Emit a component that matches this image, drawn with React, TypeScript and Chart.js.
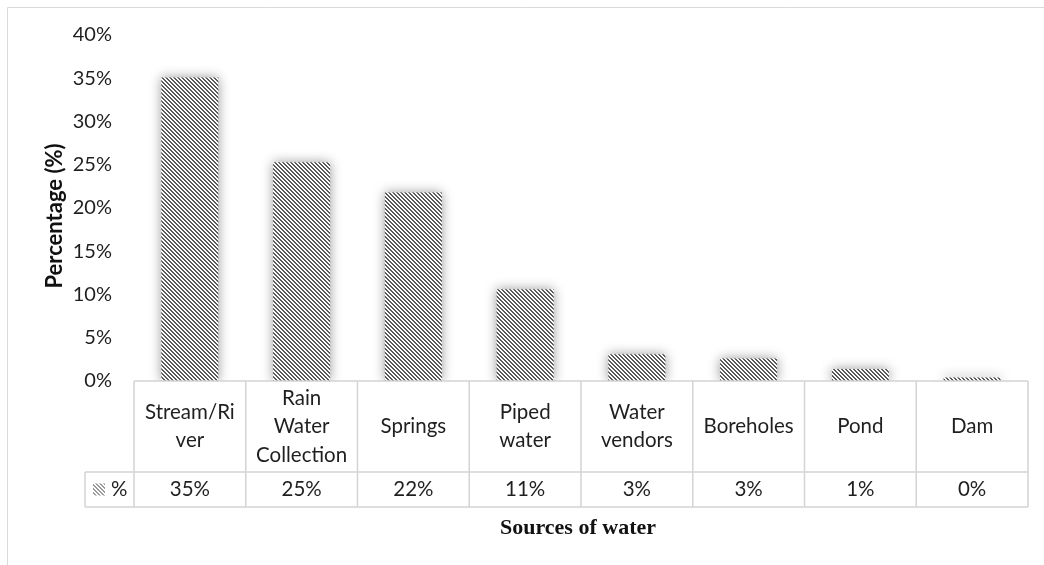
import React, { useEffect, useRef } from "react";
import { Chart, registerables } from "chart.js";

Chart.register(...registerables);

// ---- data ----
const categories = [
  "Stream/River",
  "Rain Water Collection",
  "Springs",
  "Piped water",
  "Water vendors",
  "Boreholes",
  "Pond",
  "Dam",
];
const headerLines = [
  ["Stream/Ri", "ver"],
  ["Rain", "Water", "Collection"],
  ["Springs"],
  ["Piped", "water"],
  ["Water", "vendors"],
  ["Boreholes"],
  ["Pond"],
  ["Dam"],
];
const values = [35.1, 25.3, 21.8, 10.6, 3.1, 2.6, 1.4, 0.4];
const seriesName = "%";
const yMin = 0;
const yMax = 40;
const yStep = 5;
const yAxisTitle = "Percentage (%)";
const xAxisTitle = "Sources of water";

const FONT = "Lato, 'Open Sans', sans-serif";
const TEXT = "#1f1f1f";
const GRID = "#d4d4d4";

function makePattern(dark: string, light: string) {
  const c = document.createElement("canvas");
  c.width = 4;
  c.height = 4;
  const g = c.getContext("2d")!;
  g.fillStyle = light;
  g.fillRect(0, 0, 4, 4);
  g.fillStyle = dark;
  for (let y = 0; y < 4; y++) {
    for (let x = 0; x < 4; x++) {
      const d = (((x - y) % 4) + 4) % 4;
      if (d < 2) g.fillRect(x, y, 1, 1);
    }
  }
  const main = document.createElement("canvas").getContext("2d")!;
  return main.createPattern(c, "repeat")!;
}

export default function App() {
  const ref = useRef<HTMLCanvasElement | null>(null);

  useEffect(() => {
    const canvas = ref.current!;
    const barPattern = makePattern("#5a5a5a", "#ffffff");
    const swatchPattern = makePattern("#9a9a9a", "#ffffff");

    const shadowPlugin = {
      id: "barShadow",
      beforeDatasetsDraw(chart: any) {
        const ctx = chart.ctx;
        ctx.save();
        ctx.shadowColor = "rgba(0,0,0,0.4)";
        ctx.shadowBlur = 12;
        ctx.shadowOffsetX = 0;
        ctx.shadowOffsetY = 0;
      },
      afterDatasetsDraw(chart: any) {
        chart.ctx.restore();
      },
    };

    const tablePlugin = {
      id: "dataTable",
      afterDraw(chart: any) {
        const ctx = chart.ctx as CanvasRenderingContext2D;
        const { left, right, bottom } = chart.chartArea;
        const n = categories.length;
        const cw = (right - left) / n;
        const headerBottom = bottom + 91;
        const dataBottom = bottom + 126;
        const legendLeft = left - 49;

        ctx.save();
        // frame
        ctx.strokeStyle = "#d9d9d9";
        ctx.lineWidth = 1;
        ctx.beginPath();
        ctx.moveTo(7.5, 7.5);
        ctx.lineTo(chart.width, 7.5);
        ctx.moveTo(7.5, 7.5);
        ctx.lineTo(7.5, chart.height);
        ctx.stroke();

        // table lines
        ctx.strokeStyle = GRID;
        ctx.lineWidth = 1.5;
        ctx.beginPath();
        ctx.moveTo(left, bottom);
        ctx.lineTo(right, bottom);
        ctx.moveTo(legendLeft, headerBottom);
        ctx.lineTo(right, headerBottom);
        ctx.moveTo(legendLeft, dataBottom);
        ctx.lineTo(right, dataBottom);
        ctx.moveTo(legendLeft, headerBottom);
        ctx.lineTo(legendLeft, dataBottom);
        for (let i = 0; i <= n; i++) {
          const x = left + i * cw;
          ctx.moveTo(x, bottom);
          ctx.lineTo(x, dataBottom);
        }
        ctx.stroke();

        // header text
        ctx.fillStyle = TEXT;
        ctx.font = `20.5px ${FONT}`;
        ctx.textAlign = "center";
        ctx.textBaseline = "middle";
        const lh = 28.5;
        const hc = (bottom + headerBottom) / 2;
        headerLines.forEach((lines, i) => {
          const cx = left + (i + 0.5) * cw;
          const y0 = hc - ((lines.length - 1) * lh) / 2;
          lines.forEach((t, j) => ctx.fillText(t, cx, y0 + j * lh));
        });

        // data row
        const dc = (headerBottom + dataBottom) / 2;
        values.forEach((v, i) => {
          const cx = left + (i + 0.5) * cw;
          ctx.fillText(Math.round(v) + "%", cx, dc);
        });

        // legend cell
        ctx.fillStyle = swatchPattern;
        ctx.fillRect(legendLeft + 8, dc - 6, 12, 12);
        ctx.fillStyle = TEXT;
        ctx.textAlign = "left";
        ctx.fillText(seriesName, legendLeft + 26, dc);

        // x title
        ctx.font = `bold 22px 'Liberation Serif', 'Times New Roman', serif`;
        ctx.textAlign = "center";
        ctx.fillStyle = "#111";
        ctx.fillText(xAxisTitle, (left + right) / 2 - 3, dataBottom + 21);

        // y title
        ctx.translate(55, 216);
        ctx.rotate(-Math.PI / 2);
        ctx.font = `bold 22px ${FONT}`;
        ctx.fillText(yAxisTitle, 0, 0);
        ctx.restore();
      },
    };

    const chart = new Chart(canvas, {
      type: "bar",
      data: {
        labels: categories,
        datasets: [
          {
            label: seriesName,
            data: values,
            backgroundColor: barPattern as any,
            borderWidth: 0,
            barPercentage: 0.51,
            categoryPercentage: 1,
          },
        ],
      },
      options: {
        responsive: false,
        animation: false,
        events: [],
        layout: { padding: { left: 0, right: 16, top: 35, bottom: 184 } },
        plugins: {
          legend: { display: false },
          tooltip: { enabled: false },
          title: { display: false },
        },
        scales: {
          x: { display: false },
          y: {
            min: yMin,
            max: yMax,
            grid: { display: false, drawTicks: false },
            border: { display: false },
            ticks: {
              stepSize: yStep,
              padding: 22,
              color: TEXT,
              font: { family: FONT, size: 20 },
              callback: (v: any) => v + "%",
            },
            afterFit(scale: any) {
              scale.width = 134;
            },
          },
        },
      },
      plugins: [shadowPlugin, tablePlugin],
    });
    return () => chart.destroy();
  }, []);

  return (
    <div style={{ position: "fixed", left: 0, top: 0, width: 1044, height: 565, background: "#fff" }}>
      <canvas ref={ref} width={1044} height={565} style={{ display: "block" }} />
    </div>
  );
}
